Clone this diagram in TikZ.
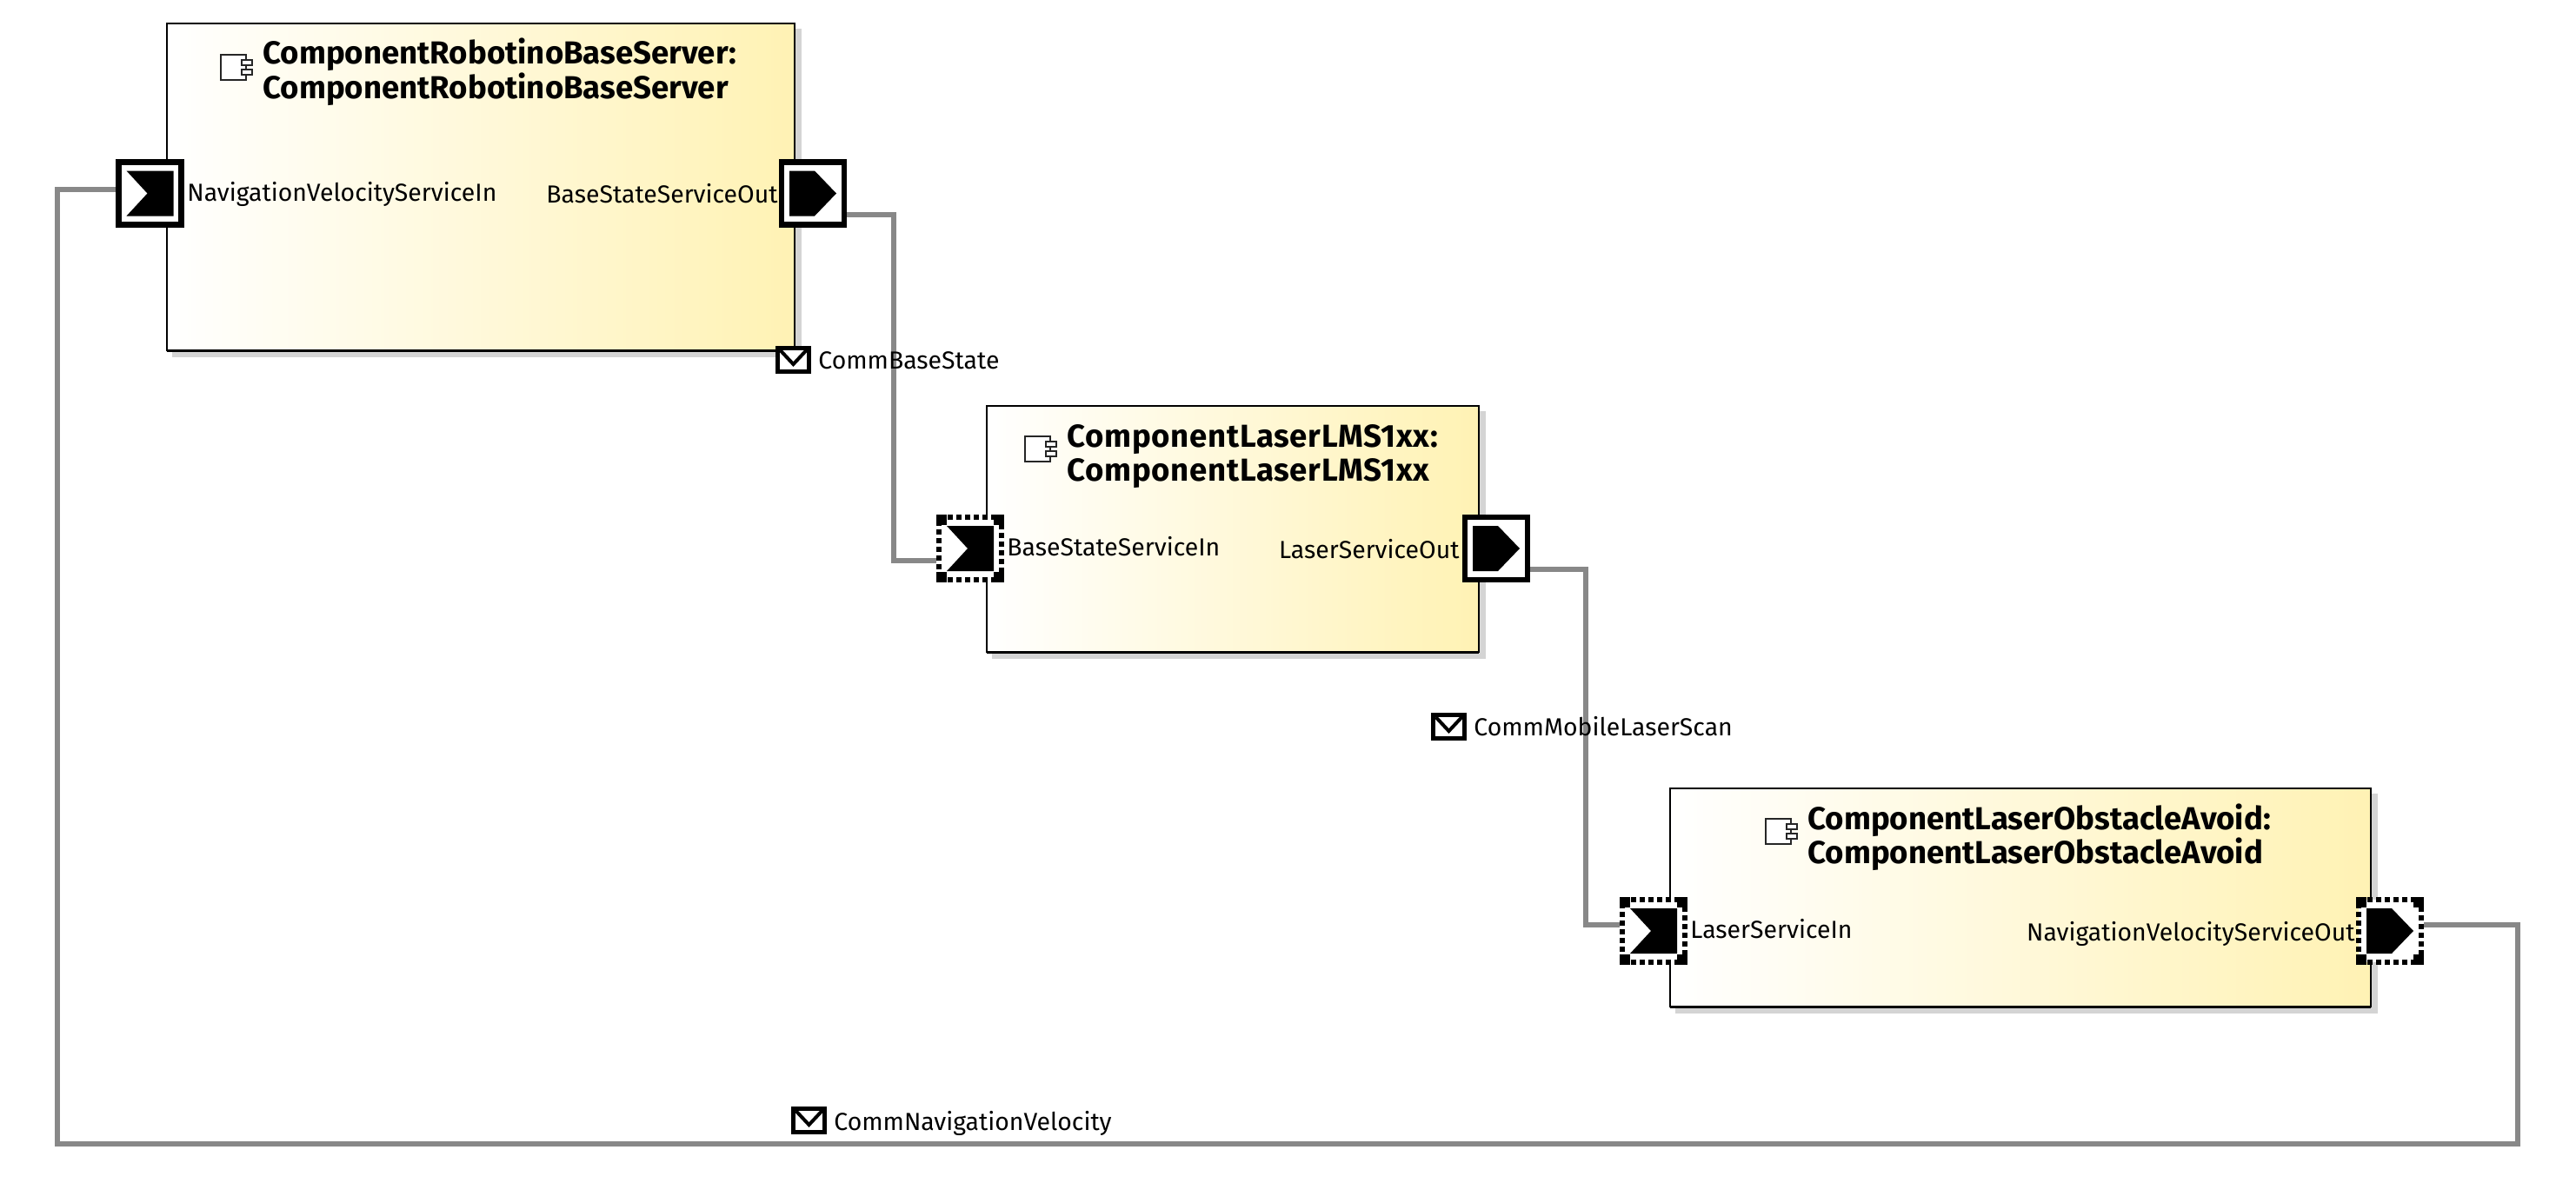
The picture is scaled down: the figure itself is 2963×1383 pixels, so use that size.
\documentclass[tikz,border=0pt]{standalone}
\usepackage{fontspec}
\setmainfont{Fira Sans}
\usetikzlibrary{calc}
\definecolor{compyellow}{HTML}{FFF2B4}
\definecolor{connGray}{HTML}{888888}
\definecolor{shadowGray}{HTML}{D4D4D4}
\tikzset{
  compbox/.style={anchor=north west,inner sep=0pt,outer sep=0pt,left color=white,right color=compyellow,draw=black,line width=0.7pt},
  conn/.style={draw=connGray,line width=2.8pt,line join=miter},
  portsolid/.style={draw=black,fill=white,line width=3.3pt,minimum size=36pt,inner sep=0pt},
  portdash/.style={draw=black,fill=white,line width=3.3pt,minimum size=36pt,inner sep=0pt,dash pattern=on 3.2pt off 1.8pt},
  plabel/.style={anchor=base west,inner sep=0pt,font=\fontsize{14.2}{16}\selectfont},
  plabelr/.style={anchor=base east,inner sep=0pt,font=\fontsize{14.2}{16}\selectfont},
  title/.style={anchor=base west,inner sep=0pt,font=\fontsize{18.3}{20}\selectfont\bfseries},
  msgicon/.style={draw=black,fill=white,line width=2.7pt,minimum width=18pt,minimum height=13.5pt,inner sep=0pt}
}
\newcommand{\compicon}[1]{%
  \begin{scope}[shift={(#1)},draw=black!85,line width=1.1pt]
    \draw[fill=white] (0,0) rectangle (29,29);
    \draw[fill=white] (24,6) rectangle (36,12);
    \draw[fill=white] (24,17) rectangle (36,23);
  \end{scope}}
\newcommand{\inglyph}[1]{\fill[black,shift={(#1.center)}] (-27,-26) -- (27,-26) -- (27,26) -- (-27,26) -- (-3,0) -- cycle;}
\newcommand{\outglyph}[1]{\fill[black,shift={(#1.center)}] (-27,-26) -- (2,-26) -- (27,0) -- (2,26) -- (-27,26) -- cycle;}
\newcommand{\dashcorners}[1]{%
  \fill[black] (#1.north west) rectangle ++(12,12);
  \fill[black] (#1.north east) rectangle ++(-12,12);
  \fill[black] (#1.south west) rectangle ++(12,-12);
  \fill[black] (#1.south east) rectangle ++(-12,-12);}
\newcommand{\envelope}[1]{\draw[black,line width=2pt,shift={(#1.center)}] (-15,-11) -- (0,5) -- (15,-11);}
\newfontfamily\titlewide[LetterSpace=1.9]{Fira Sans}
\begin{document}
\begin{tikzpicture}[x=0.5pt,y=-0.5pt]
\useasboundingbox (0,0) rectangle (2963,1383);
% shadows
\fill[shadowGray] (198,33) rectangle (922,411);
\fill[shadowGray] (1141,473) rectangle (1709,758);
\fill[shadowGray] (1927,913) rectangle (2735,1166);
% components
\node[compbox,minimum width=361pt,minimum height=188pt] (cBase) at (192,27) {};
\node[compbox,minimum width=283pt,minimum height=141.5pt] (cLms) at (1135,467) {};
\node[compbox,minimum width=403pt,minimum height=125.5pt] (cAvoid) at (1921,907) {};
\draw[line width=1.5pt] (cBase.south west) -- (cBase.south east);
\draw[line width=1.5pt] (cLms.south west) -- (cLms.south east);
\draw[line width=1.5pt] (cAvoid.south west) -- (cAvoid.south east);
% ports
\node[portsolid] (pNavIn) at (172.5,222.5) {};
\node[portsolid] (pBaseOut) at (935,222.5) {};
\node[portdash] (pBaseIn) at (1116,631) {};
\node[portsolid] (pLaserOut) at (1721,631) {};
\node[portdash] (pLaserIn) at (1902,1071) {};
\node[portdash] (pNavOut) at (2749,1071) {};
\dashcorners{pBaseIn}\dashcorners{pLaserIn}\dashcorners{pNavOut}
\inglyph{pNavIn}\outglyph{pBaseOut}\inglyph{pBaseIn}\outglyph{pLaserOut}\inglyph{pLaserIn}\outglyph{pNavOut}
% connectors
\coordinate (a1) at (1028,247);
\coordinate (a2) at (1028,645);
\draw[conn] (pBaseOut.east |- a1) -- (a1) -- (a2) -- (pBaseIn.west |- a2);
\coordinate (b1) at (1824,655);
\coordinate (b2) at (1824,1064);
\draw[conn] (pLaserOut.east |- b1) -- (b1) -- (b2) -- (pLaserIn.west |- b2);
\coordinate (d1) at (2896,1064);
\coordinate (d2) at (2896,1316);
\coordinate (d3) at (66,1316);
\coordinate (d4) at (66,218);
\draw[conn] (pNavOut.east |- d1) -- (d1) -- (d2) -- (d3) -- (d4) -- (pNavIn.west |- d4);
% icons
\compicon{254,63}
\compicon{1179,502}
\compicon{2031,942}
% titles
\node[title] (t1a) at (302,73) {ComponentRobotinoBaseServer:};
\node[title] (t1b) at (302,113) {ComponentRobotinoBaseServer};
\node[title] (t2a) at (1227,514) {\titlewide\bfseries ComponentLaserLMS1xx:};
\node[title] (t2b) at (1227,553) {\titlewide\bfseries ComponentLaserLMS1xx};
\node[title] (t3a) at (2079,954) {ComponentLaserObstacleAvoid:};
\node[title] (t3b) at (2079,993) {ComponentLaserObstacleAvoid};
% port labels
\node[plabel] (l1) at (215,231) {NavigationVelocityServiceIn};
\node[plabelr] (l2) at (895,233) {BaseStateServiceOut};
\node[plabel] (l3) at (1158,639) {BaseStateServiceIn};
\node[plabelr] (l4) at (1679,642) {LaserServiceOut};
\node[plabel] (l5) at (1944,1079) {LaserServiceIn};
\node[plabelr] (l6) at (2709,1082) {NavigationVelocityServiceOut};
% messages
\node[msgicon] (m1) at (912.5,414) {};
\node[msgicon] (m2) at (1666.5,836) {};
\node[msgicon] (m3) at (930.5,1289) {};
\envelope{m1}\envelope{m2}\envelope{m3}
\node[plabel] (ml1) at (941,424) {CommBaseState};
\node[plabel] (ml2) at (1695,846) {CommMobileLaserScan};
\node[plabel] (ml3) at (959,1300) {CommNavigationVelocity};
\end{tikzpicture}
\end{document}
